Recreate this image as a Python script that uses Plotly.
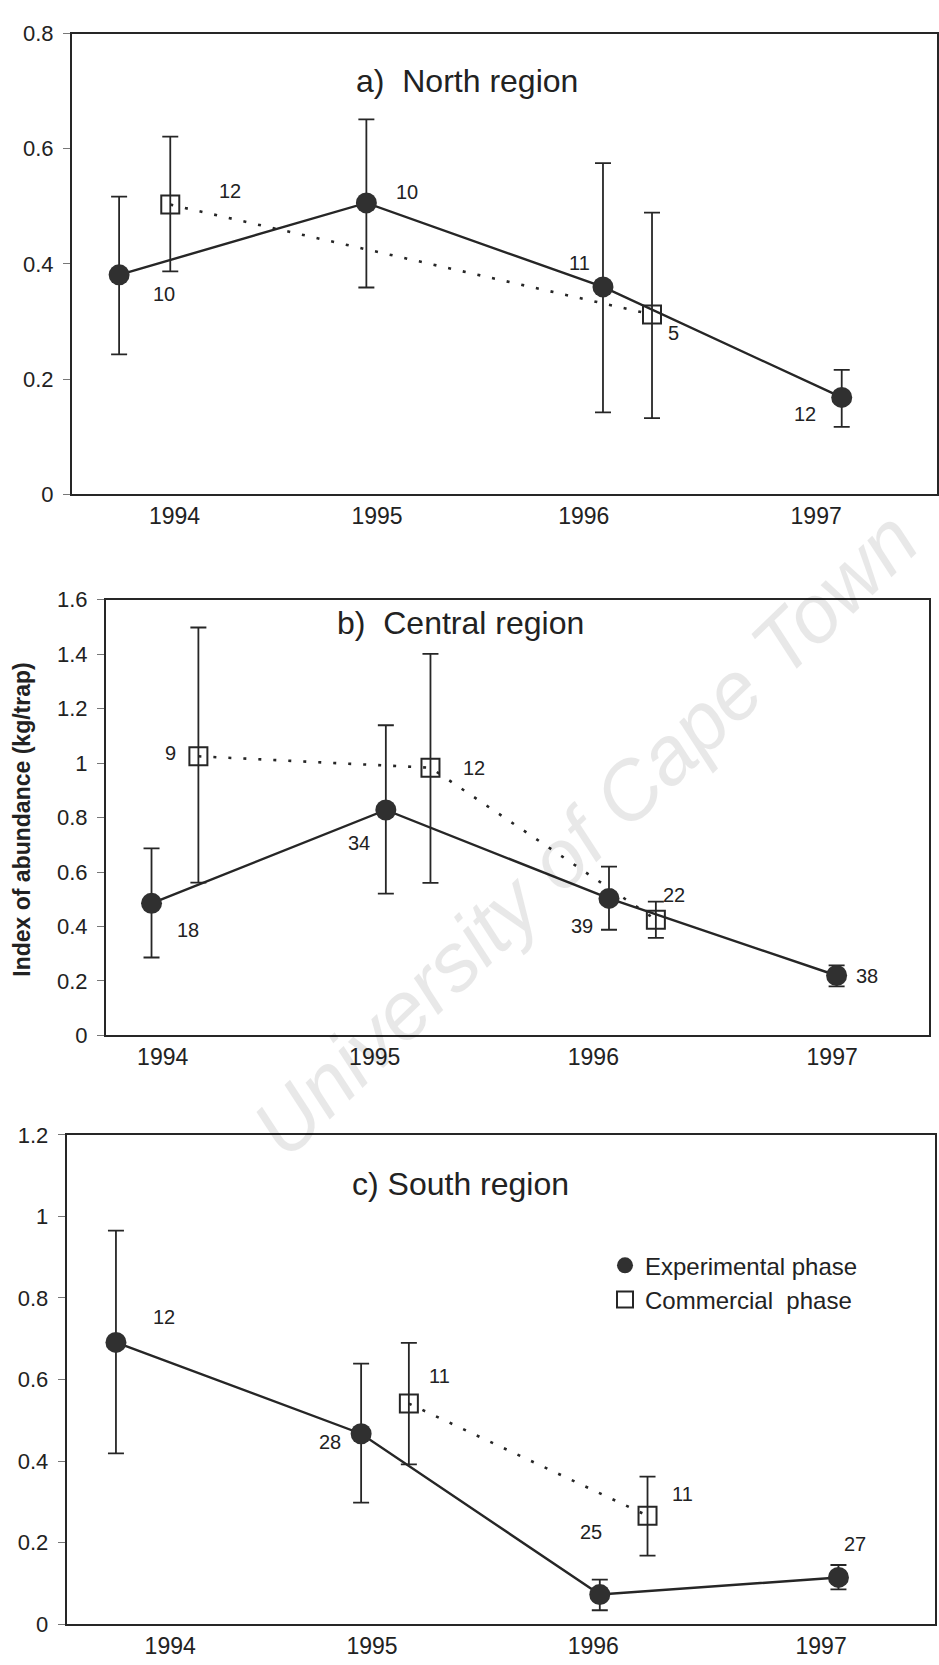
import plotly.graph_objects as go

W, H = 939, 1665
FONT = "Liberation Sans, Arial, Helvetica, sans-serif"
INK = "#262626"

year_labels = ["1994", "1995", "1996", "1997"]

# ---------------- Panel a) North region ----------------
a_title = "a)  North region"
a_tick_x = [1994.03, 1994.98, 1995.95, 1997.04]
a_exp_x = [1993.77, 1994.93, 1996.04, 1997.16]
a_exp_y = [0.381, 0.506, 0.360, 0.168]
a_exp_hi = [0.517, 0.651, 0.575, 0.216]
a_exp_lo = [0.243, 0.359, 0.142, 0.117]
a_exp_n = ["10", "10", "11", "12"]
a_com_x = [1994.01, 1996.27]
a_com_y = [0.503, 0.312]
a_com_hi = [0.621, 0.489]
a_com_lo = [0.387, 0.132]
a_com_n = ["12", "5"]

# ---------------- Panel b) Central region ----------------
b_title = "b)  Central region"
b_tick_x = [1994.03, 1994.98, 1995.96, 1997.03]
b_exp_x = [1993.98, 1995.03, 1996.03, 1997.05]
b_exp_y = [0.485, 0.828, 0.503, 0.220]
b_exp_hi = [0.687, 1.139, 0.620, 0.257]
b_exp_lo = [0.286, 0.521, 0.388, 0.180]
b_exp_n = ["18", "34", "39", "38"]
b_com_x = [1994.19, 1995.23, 1996.24]
b_com_y = [1.025, 0.983, 0.425]
b_com_hi = [1.498, 1.401, 0.491]
b_com_lo = [0.561, 0.560, 0.358]
b_com_n = ["9", "12", "22"]

# ---------------- Panel c) South region ----------------
c_title = "c) South region"
c_tick_x = [1994.03, 1994.96, 1995.98, 1997.03]
c_exp_x = [1993.78, 1994.91, 1996.01, 1997.11]
c_exp_y = [0.691, 0.467, 0.0725, 0.1145]
c_exp_hi = [0.965, 0.639, 0.109, 0.145]
c_exp_lo = [0.419, 0.298, 0.034, 0.085]
c_exp_n = ["12", "28", "25", "27"]
c_com_x = [1995.13, 1996.23]
c_com_y = [0.541, 0.266]
c_com_hi = [0.690, 0.362]
c_com_lo = [0.392, 0.168]
c_com_n = ["11", "11"]

y_title = "Index of abundance (kg/trap)"
legend_names = ["Experimental phase", "Commercial  phase"]
watermark = "University of Cape Town"

# ---------------- layout geometry (pixels) ----------------
panels = [
    dict(title=a_title, ticks=a_tick_x, ex=a_exp_x, ey=a_exp_y, ehi=a_exp_hi, elo=a_exp_lo, en=a_exp_n,
         cx=a_com_x, cy=a_com_y, chi=a_com_hi, clo=a_com_lo, cn=a_com_n,
         xpx=(72, 937), ypx=(22, 489.5), xr=(1993.549, 1997.607), yr=(0, 0.8),
         title_pos=(467, 70),
         eoff=[(45, 19), (41, -11), (-23, -24), (-37, 17)],
         coff=[(60, -14), (21, 18)]),
    dict(title=b_title, ticks=b_tick_x, ex=b_exp_x, ey=b_exp_y, ehi=b_exp_hi, elo=b_exp_lo, en=b_exp_n,
         cx=b_com_x, cy=b_com_y, chi=b_com_hi, clo=b_com_lo, cn=b_com_n,
         xpx=(106, 929), ypx=(596.7, 1039), xr=(1993.776, 1997.464), yr=(0, 1.6),
         title_pos=(460, 620),
         eoff=[(36, 27), (-27, 33), (-27, 28), (30, 0)],
         coff=[(-28, -3), (44, 0), (18, -25)]),
    dict(title=c_title, ticks=c_tick_x, ex=c_exp_x, ey=c_exp_y, ehi=c_exp_hi, elo=c_exp_lo, en=c_exp_n,
         cx=c_com_x, cy=c_com_y, chi=c_com_hi, clo=c_com_lo, cn=c_com_n,
         xpx=(66.7, 935), ypx=(1140, 1636.7), xr=(1993.553, 1997.555), yr=(0, 1.2),
         title_pos=(460, 1190),
         eoff=[(48, -25), (-31, 8), (-9, -63), (17, -33)],
         coff=[(31, -28), (35, -22)]),
]

fig = go.Figure()
annotations = []

# watermark (drawn first, very light)
annotations.append(dict(text="<i>" + watermark + "</i>", xref="paper", yref="paper",
                        x=585 / W, y=1 - 834 / H, textangle=-44, showarrow=False,
                        xanchor="center", yanchor="middle", opacity=0.085,
                        font=dict(family=FONT, size=82, color="#000")))

for i, p in enumerate(panels):
    k = "" if i == 0 else str(i + 1)
    xa, ya = "x" + k, "y" + k

    # commercial phase (dotted, open squares)
    fig.add_trace(go.Scatter(
        x=p["cx"], y=p["cy"], xaxis=xa, yaxis=ya, mode="lines+markers", showlegend=False,
        line=dict(color=INK, width=2.6, dash="3px,12px"),
        marker=dict(symbol="square-open", size=18, color=INK, line=dict(width=2, color=INK)),
        error_y=dict(type="data", symmetric=False,
                     array=[h - v for h, v in zip(p["chi"], p["cy"])],
                     arrayminus=[v - l for l, v in zip(p["clo"], p["cy"])],
                     color=INK, thickness=1.8, width=8),
        hoverinfo="skip"))
    # experimental phase (solid, filled circles)
    fig.add_trace(go.Scatter(
        x=p["ex"], y=p["ey"], xaxis=xa, yaxis=ya, mode="lines+markers", showlegend=False,
        line=dict(color=INK, width=2.4),
        marker=dict(symbol="circle", size=21, color="#303030"),
        error_y=dict(type="data", symmetric=False,
                     array=[h - v for h, v in zip(p["ehi"], p["ey"])],
                     arrayminus=[v - l for l, v in zip(p["elo"], p["ey"])],
                     color=INK, thickness=1.8, width=8),
        hoverinfo="skip"))

    xdom = [p["xpx"][0] / W, p["xpx"][1] / W]
    ydom = [1 - p["ypx"][1] / H, 1 - p["ypx"][0] / H]
    fig.layout["xaxis" + k] = dict(
        domain=xdom, range=list(p["xr"]), anchor=ya,
        tickmode="array", tickvals=p["ticks"], ticktext=year_labels, ticks="",
        showline=True, mirror=True, linecolor=INK, linewidth=2,
        showgrid=False, zeroline=False,
        tickfont=dict(family=FONT, size=23, color="#222"))
    fig.layout["yaxis" + k] = dict(
        domain=ydom, range=list(p["yr"]), anchor=xa, dtick=0.2, tick0=0,
        ticks="outside", ticklen=7, tickwidth=1.2, tickcolor="#777",
        ticklabelstandoff=5,
        showline=True, mirror=True, linecolor=INK, linewidth=2,
        showgrid=False, zeroline=False,
        tickfont=dict(family=FONT, size=22, color="#222"))

    # panel title
    annotations.append(dict(text=p["title"], xref="paper", yref="paper",
                            x=p["title_pos"][0] / W, y=1 - p["title_pos"][1] / H,
                            xanchor="center", yanchor="middle", showarrow=False,
                            font=dict(family=FONT, size=32, color="#222")))
    # sample size labels
    for xs, ys, ns, offs in ((p["ex"], p["ey"], p["en"], p["eoff"]),
                             (p["cx"], p["cy"], p["cn"], p["coff"])):
        for xv, yv, nv, (dx, dy) in zip(xs, ys, ns, offs):
            annotations.append(dict(text=nv, xref=xa, yref=ya, x=xv, y=yv,
                                    xshift=dx, yshift=-dy, showarrow=False,
                                    xanchor="center", yanchor="middle",
                                    font=dict(family=FONT, size=20, color="#222")))

# legend entries (panel c)
fig.add_trace(go.Scatter(x=[None], y=[None], xaxis="x3", yaxis="y3", mode="markers",
                         name=legend_names[0], marker=dict(symbol="circle", size=16, color="#303030")))
fig.add_trace(go.Scatter(x=[None], y=[None], xaxis="x3", yaxis="y3", mode="markers",
                         name=legend_names[1],
                         marker=dict(symbol="square-open", size=16, color=INK, line=dict(width=2, color=INK))))

# y axis title
annotations.append(dict(text="<b>" + y_title + "</b>", xref="paper", yref="paper",
                        x=22 / W, y=1 - 820 / H, textangle=-90, showarrow=False,
                        xanchor="center", yanchor="middle",
                        font=dict(family=FONT, size=23, color="#222")))

fig.update_layout(
    width=W, height=H, margin=dict(l=0, r=0, t=0, b=0),
    paper_bgcolor="white", plot_bgcolor="white",
    showlegend=True,
    legend=dict(x=605 / W, y=1 - 1250 / H, xanchor="left", yanchor="top",
                bgcolor="rgba(0,0,0,0)", font=dict(family=FONT, size=24, color="#222"),
                tracegroupgap=0, itemsizing="trace"),
    annotations=annotations,
    hovermode=False,
)

fig.write_html("out.html")
